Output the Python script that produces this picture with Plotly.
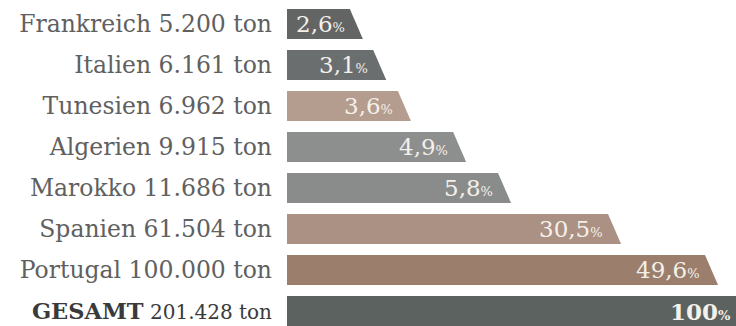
import plotly.graph_objects as go

countries = ["Frankreich", "Italien", "Tunesien", "Algerien", "Marokko", "Spanien", "Portugal", "GESAMT"]
tonnes = ["5.200", "6.161", "6.962", "9.915", "11.686", "61.504", "100.000", "201.428"]
percent_labels = ["2,6", "3,1", "3,6", "4,9", "5,8", "30,5", "49,6", "100"]
# stylised (non-proportional) bar lengths as displayed in the infographic
bar_display = [14.0, 19.2, 24.7, 37.0, 47.0, 71.5, 93.1, 100.0]
colors = ["#636565", "#6b6e6f", "#b49c8f", "#8d8f8f", "#8a8c8c", "#ab9184", "#9b7f6c", "#5b625f"]

SLANT = 2.9
HALF = 0.365
ypos = list(range(len(countries)))

fig = go.Figure()
fig.add_trace(go.Bar(
    x=bar_display, y=ypos, orientation="h", width=2 * HALF,
    marker=dict(color=colors, line=dict(width=0)),
    hoverinfo="skip", showlegend=False,
))
for i, (L, c) in enumerate(zip(bar_display, colors)):
    fig.add_trace(go.Scatter(
        x=[L - 0.3, L, L + SLANT, L - 0.3, L - 0.3],
        y=[i - HALF, i - HALF, i + HALF, i + HALF, i - HALF],
        fill="toself", fillcolor=c, mode="lines", line=dict(width=0, color=c),
        hoverinfo="skip", showlegend=False,
    ))

ticktext = []
for name, t in zip(countries, tonnes):
    if name == "GESAMT":
        ticktext.append(
            f"<span style='color:#3a3a3a'><b><span style='font-size:22.5px'>{name}</span></b>"
            f"<span style='font-size:20px'> {t} ton</span></span>"
        )
    else:
        ticktext.append(f"{name} {t} ton")

for i, (L, p) in enumerate(zip(bar_display, percent_labels)):
    bold = i == len(percent_labels) - 1
    txt = f"{p}<span style='font-size:13px'>%</span>"
    if bold:
        txt = f"<b>{txt}</b>"
    fig.add_annotation(
        x=L, y=i, xref="x", yref="y", text=txt, showarrow=False,
        xanchor="right", yanchor="middle", xshift=-3, yshift=0,
        font=dict(family="DejaVu Serif", size=23, color="#f4f0ea"),
    )

fig.update_layout(
    width=736, height=326,
    margin=dict(l=287, r=0, t=0, b=0),
    paper_bgcolor="white", plot_bgcolor="white",
    bargap=0,
    xaxis=dict(range=[0, 100], visible=False, fixedrange=True),
    yaxis=dict(
        range=[(326 - 24) / 41, -24 / 41],
        tickvals=ypos, ticktext=ticktext, ticks="", showgrid=False,
        zeroline=False, showline=False, automargin=False, fixedrange=True,
        ticklabelstandoff=14,
        tickfont=dict(family="DejaVu Serif", size=23.5, color="#606060"),
    ),
)

fig.write_html(
    "out.html",
    config={"displayModeBar": False},
    post_script="document.body.style.margin='0';document.body.style.overflow='hidden';",
)
